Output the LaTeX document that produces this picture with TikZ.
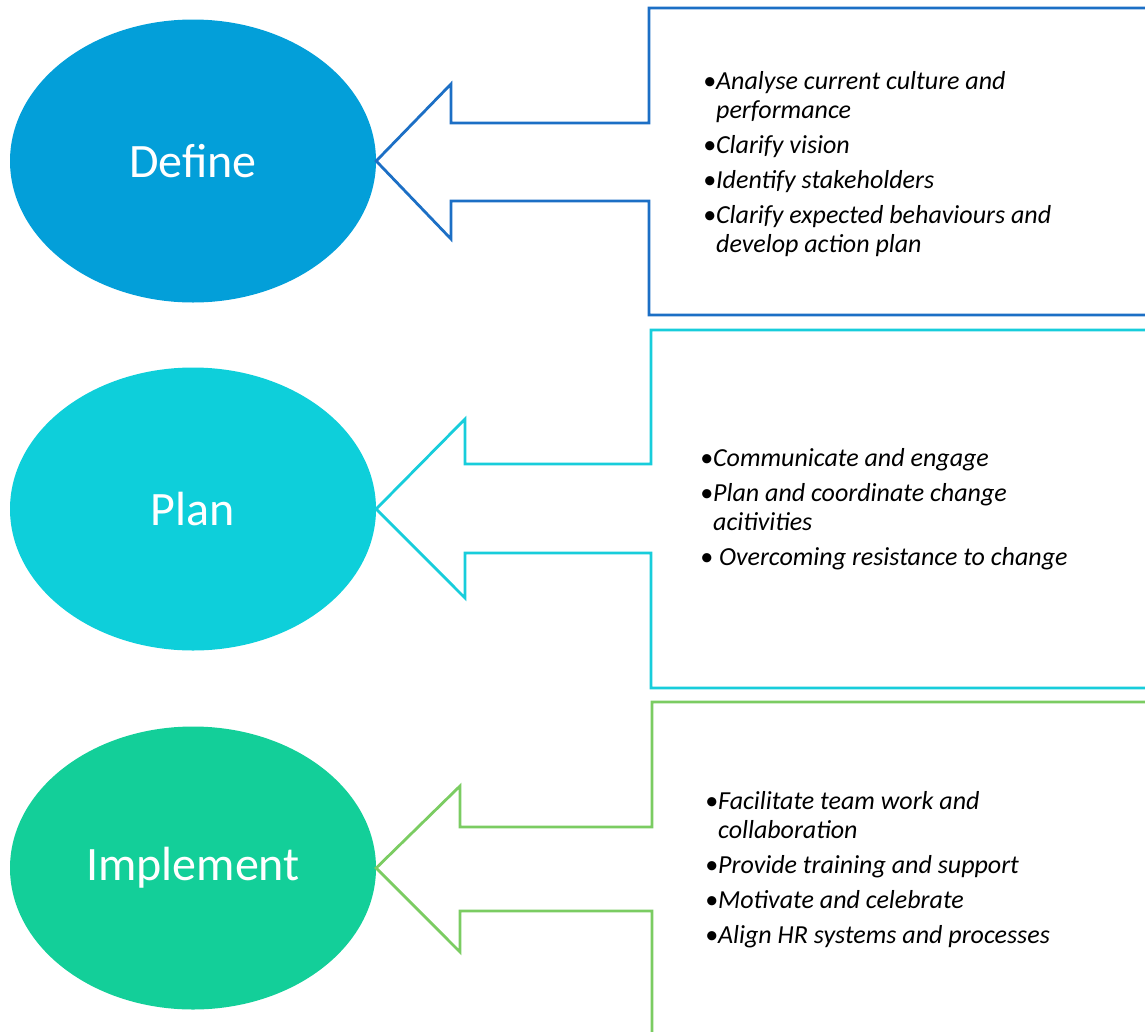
\documentclass[tikz,border=0pt]{standalone}
\usepackage{fontspec}
\setmainfont{Carlito}
\usepackage{xcolor}
\usetikzlibrary{positioning}
\usetikzlibrary{shapes.geometric}

\definecolor{definefill}{RGB}{3,159,217}
\definecolor{planfill}{RGB}{14,207,218}
\definecolor{implfill}{RGB}{19,207,153}
\definecolor{defineline}{RGB}{28,111,197}
\definecolor{planline}{RGB}{23,205,219}
\definecolor{implline}{RGB}{123,204,98}

\begin{document}
\begin{tikzpicture}[x=1pt, y=-1pt, on grid, phase/.style ={ellipse, minimum width=366pt, minimum height=283pt, inner sep=0pt, text=white, font=\fontsize{48}{58}\selectfont}, frame/.style={line width=2.8pt, line join=miter}, points/.style={anchor=north west, inner sep=0pt, align=left, font=\fontsize{26}{29}\selectfont\itshape}]
\clip (0,0) rectangle (1145,1031);
\node[phase, fill=definefill] (define) at (193,161) {Define};
\node[phase, fill=planfill] (plan) [below=348pt of define] {Plan};
\node[phase, fill=implfill] (impl) [below=359pt of plan] {Implement};
% arrow frames pointing back at each phase
\draw[frame, defineline] (1160,8) -| (649,123) -| (451,84) -- (define.east) -- (451,239) |- (649,201) |- (1160,315);
\draw[frame, planline] (1160,330) -| (651,464) -| (465,419) -- (plan.east) -- (465,598) |- (651,553) |- (1160,688);
\draw[frame, implline] (1160,702) -| (652,827) -| (460,786) -- (impl.east) -- (460,952) |- (652,911) -- (652,1040);
% bullet points
\node[points] (definepts) at (703,71) {\textbullet Analyse current culture and\\ \phantom{\textbullet}performance\\[6pt] \textbullet Clarify vision\\[6pt] \textbullet Identify stakeholders\\[6pt] \textbullet Clarify expected behaviours and\\ \phantom{\textbullet}develop action plan};
\node[points] (planpts) at (700,448) {\textbullet Communicate and engage\\[6pt] \textbullet Plan and coordinate change\\ \phantom{\textbullet}acitivities\\[6pt] \textbullet\ Overcoming resistance to change};
\node[points] (implpts) at (705,791) {\textbullet Facilitate team work and\\ \phantom{\textbullet}collaboration\\[6pt] \textbullet Provide training and support\\[6pt] \textbullet Motivate and celebrate\\[6pt] \textbullet Align HR systems and processes};
\end{tikzpicture}
\end{document}
